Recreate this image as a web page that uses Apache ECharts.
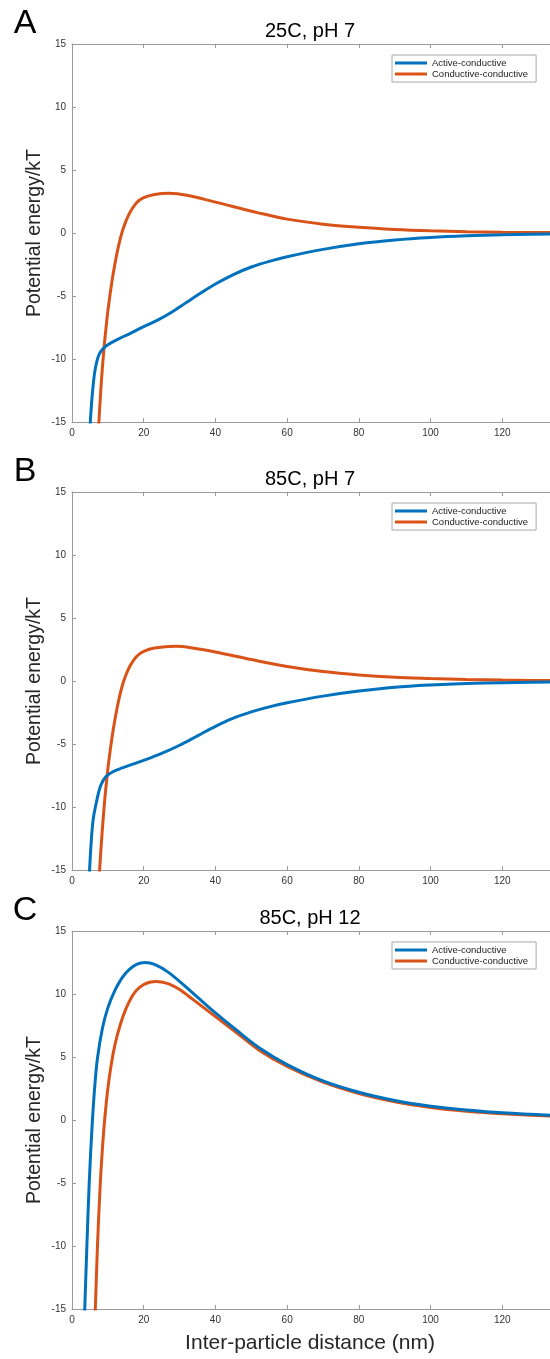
<!DOCTYPE html>
<html>
<head>
<meta charset="utf-8">
<script src="https://cdn.jsdelivr.net/npm/echarts@6/dist/echarts.min.js"></script>
<style>
html,body{margin:0;padding:0;background:#fff;}
#chart{width:550px;height:1359px;}
</style>
</head>
<body>
<div id="chart"></div>
<script>
// ---- data (x: inter-particle distance nm, y: potential energy / kT) ----
var seriesNames = ['Active-conductive', 'Conductive-conductive'];
var panelTitles = ['25C, pH 7', '85C, pH 7', '85C, pH 12'];
var panelLetters = ['A', 'B', 'C'];

var aActive = [[4.9,-16],[5.1,-15],[5.6,-13],[6.3,-11.1],[7.0,-10.1],[7.7,-9.55],[8.6,-9.2],[9.6,-8.95],[11,-8.7],[13.3,-8.36],[16,-8.0],[20,-7.43],[24,-6.9],[28,-6.25],[32,-5.5],[36,-4.75],[40,-4.05],[45,-3.3],[50,-2.7],[55,-2.25],[60,-1.88],[70,-1.3],[80,-0.85],[90,-0.55],[100,-0.35],[110,-0.22],[120,-0.14],[140,-0.05]];
var aConductive = [[7.3,-16],[7.5,-15],[8,-12.6],[8.5,-10.6],[9,-8.9],[9.5,-7.5],[10,-6.2],[11,-4.1],[12,-2.4],[13,-1.0],[14,0.1],[15,0.9],[16,1.55],[18,2.4],[20,2.8],[23,3.05],[27,3.15],[32,3.0],[40,2.45],[52,1.6],[60,1.1],[70,0.7],[80,0.45],[90,0.28],[100,0.17],[110,0.1],[120,0.06],[140,0.02]];

var bActive = [[4.7,-16],[4.9,-15],[5.3,-13],[5.9,-11],[6.9,-9.5],[8,-8.3],[9.4,-7.6],[11.4,-7.2],[14,-6.9],[17,-6.6],[20,-6.3],[25,-5.75],[30,-5.1],[35,-4.35],[40,-3.6],[45,-2.95],[50,-2.45],[55,-2.05],[60,-1.72],[70,-1.2],[80,-0.8],[90,-0.5],[100,-0.32],[110,-0.2],[120,-0.13],[140,-0.05]];
var bConductive = [[7.5,-16],[7.7,-15],[8.2,-12.8],[8.7,-10.9],[9.2,-9.2],[9.7,-7.8],[10.2,-6.5],[11.2,-4.4],[12.2,-2.7],[13.2,-1.3],[14.2,-0.2],[15.2,0.6],[16.2,1.2],[18,1.95],[20,2.35],[23,2.62],[29,2.75],[34,2.6],[40,2.3],[50,1.7],[60,1.15],[70,0.75],[80,0.48],[90,0.3],[100,0.2],[110,0.12],[120,0.07],[140,0.02]];

var cActive = [[3.4,-16],[3.55,-15],[4.15,-10],[4.8,-5],[5.6,-0.5],[6.3,2.5],[7.1,4.9],[8.5,7.3],[10,8.9],[12,10.3],[14,11.3],[16,11.95],[18,12.35],[20.3,12.5],[23,12.35],[27,11.7],[33.8,10.05],[40,8.5],[46,7.1],[52.4,5.7],[60,4.4],[70,3.1],[80,2.2],[90,1.55],[100,1.1],[110,0.8],[120,0.58],[140,0.3]];
var cConductive = [[6.3,-16],[6.5,-15],[7.1,-10],[7.9,-5],[8.5,-2.2],[9.1,0],[10,2.5],[11,4.5],[12,6],[13.5,7.6],[15,8.8],[16.6,9.75],[18,10.3],[20,10.75],[22,10.95],[23.5,11.0],[25,10.95],[27,10.8],[30,10.35],[33.8,9.55],[40,8.2],[46,6.9],[52.4,5.5],[60,4.25],[70,3.0],[80,2.1],[90,1.45],[100,1.0],[110,0.7],[120,0.5],[140,0.22]];

var panelData = [[aActive, aConductive], [bActive, bConductive], [cActive, cConductive]];
var colors = ['#0072BD', '#D95319'];

// ---- layout ----
var FONT = '"Liberation Sans", Arial, Helvetica, sans-serif';
var gridTops = [44, 492, 931];
var gridH = 378;
var gridLeft = 72;
var gridW = 478;
var xMax = 133.3;
var axisColor = '#9a9a9a';
var labelColor = '#333';

var chart = echarts.init(document.getElementById('chart'), null, {renderer: 'canvas'});

var grids = [], xAxes = [], yAxes = [], series = [], legends = [], graphics = [];

gridTops.forEach(function (top, i) {
  grids.push({left: gridLeft, top: top, width: gridW, height: gridH, containLabel: false, outerBoundsMode: 'none'});
  // bottom x axis
  xAxes.push({
    type: 'value', gridIndex: i, position: 'bottom', min: 0, max: xMax, interval: 20,
    axisLine: {show: true, onZero: false, lineStyle: {color: axisColor, width: 1}},
    axisTick: {show: true, inside: true, length: 4, lineStyle: {color: axisColor}},
    axisLabel: {show: true, color: labelColor, fontSize: 10, fontFamily: FONT, margin: 6, showMaxLabel: false},
    splitLine: {show: false}
  });
  // top x axis (box)
  xAxes.push({
    type: 'value', gridIndex: i, position: 'top', min: 0, max: xMax, interval: 20,
    axisLine: {show: true, onZero: false, lineStyle: {color: axisColor, width: 1}},
    axisTick: {show: true, inside: true, length: 4, lineStyle: {color: axisColor}},
    axisLabel: {show: false},
    splitLine: {show: false}
  });
  yAxes.push({
    type: 'value', gridIndex: i, position: 'left', min: -15, max: 15, interval: 5,
    axisLine: {show: true, onZero: false, lineStyle: {color: axisColor, width: 1}},
    axisTick: {show: true, inside: true, length: 4, lineStyle: {color: axisColor}},
    axisLabel: {show: true, color: labelColor, fontSize: 10, fontFamily: FONT, margin: 6},
    splitLine: {show: false}
  });
  panelData[i].forEach(function (d, k) {
    series.push({
      name: seriesNames[k], type: 'line', xAxisIndex: i * 2, yAxisIndex: i,
      data: d, showSymbol: false, symbol: 'none', smooth: 0.35, clip: true,
      lineStyle: {color: colors[k], width: 3}, itemStyle: {color: colors[k]},
      z: 2 + (1 - k)
    });
  });
  legends.push({
    orient: 'vertical', left: 392, top: top + 11, width: 146,
    padding: [3, 8, 3, 3], itemGap: 1, itemWidth: 32, itemHeight: 3, icon: 'rect',
    borderColor: '#a8a8a8', borderWidth: 1, backgroundColor: '#fff',
    textStyle: {fontSize: 9.5, color: '#222', fontFamily: FONT},
    data: seriesNames, selectedMode: false
  });
  graphics.push({
    type: 'text', x: 310, y: top - 13,
    style: {text: panelTitles[i], font: '20px ' + FONT, fill: '#000', align: 'center', verticalAlign: 'middle'}
  });
  graphics.push({
    type: 'text', x: 25, y: top - 20,
    style: {text: panelLetters[i], font: '34px ' + FONT, fill: '#000', align: 'center', verticalAlign: 'middle'}
  });
  graphics.push({
    type: 'text', x: 35, y: top + gridH / 2, rotation: Math.PI / 2,
    style: {text: 'Potential energy/kT', font: '19.5px ' + FONT, fill: '#262626', align: 'center', verticalAlign: 'middle'}
  });
});

graphics.push({
  type: 'text', x: 310, y: 1343,
  style: {text: 'Inter-particle distance (nm)', font: '21px ' + FONT, fill: '#262626', align: 'center', verticalAlign: 'middle'}
});

chart.setOption({
  animation: false,
  backgroundColor: '#fff',
  grid: grids,
  xAxis: xAxes,
  yAxis: yAxes,
  legend: legends,
  series: series,
  graphic: graphics
});
</script>
</body>
</html>
